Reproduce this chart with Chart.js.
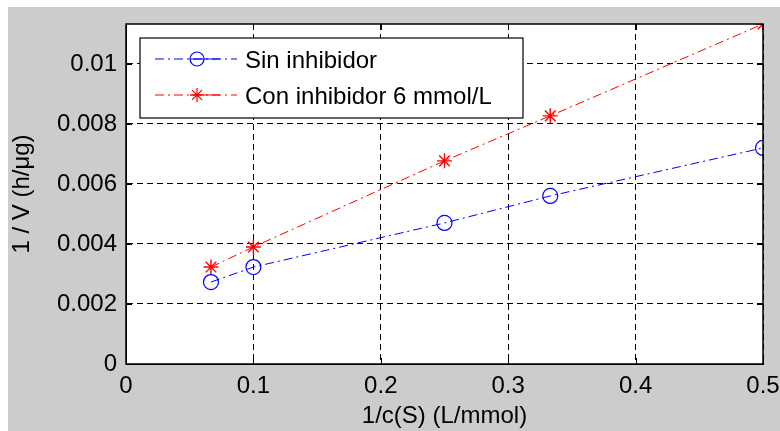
<!DOCTYPE html>
<html>
<head>
<meta charset="utf-8">
<style>
  html, body { margin: 0; padding: 0; background: #fff; }
  #wrap { position: absolute; left: 0; top: 0; width: 780px; height: 431px; }
</style>
<script src="https://cdn.jsdelivr.net/npm/chart.js"></script>
</head>
<body>
<div id="wrap"><canvas id="myChart" width="780" height="431"></canvas></div>
<script>
  // data
  const invS = [0.0667, 0.1, 0.25, 0.333, 0.5];
  const sinInhibidor = [0.00273, 0.00323, 0.0047, 0.0056, 0.0072];
  const conInhibidor = [0.00323, 0.0039, 0.00677, 0.00827, 0.01133];
  const seriesNames = ['Sin inhibidor', 'Con inhibidor 6 mmol/L'];
  const xTicks = [0, 0.1, 0.2, 0.3, 0.4, 0.5];
  const yTicks = [0, 0.002, 0.004, 0.006, 0.008, 0.01];

  const FONT = '"Liberation Sans", Arial, sans-serif';
  const DASHDOT = [9, 4, 2, 4];

  // figure background, white edge strip, frame + inward ticks around plot area
  const frame = {
    id: 'frame',
    beforeDraw(chart) {
      const c = chart.ctx;
      c.save();
      c.fillStyle = '#fff';
      c.fillRect(0, 0, chart.width, chart.height);
      c.fillStyle = '#cccccc';
      c.fillRect(8, 7, chart.width - 8, chart.height - 7);
      const a = chart.chartArea;
      c.fillStyle = '#fff';
      c.fillRect(a.left, a.top, a.right - a.left, a.bottom - a.top);
      c.restore();
    },
    afterDatasetsDraw(chart) {
      const c = chart.ctx, a = chart.chartArea;
      const sx = chart.scales.x, sy = chart.scales.y;
      c.save();
      c.strokeStyle = '#000';
      c.lineWidth = 1;
      c.beginPath();
      xTicks.forEach(v => {
        const px = Math.round(sx.getPixelForValue(v)) + 0.5;
        c.moveTo(px, a.top); c.lineTo(px, a.top + 6);
        c.moveTo(px, a.bottom); c.lineTo(px, a.bottom - 6);
      });
      yTicks.forEach(v => {
        const py = Math.round(sy.getPixelForValue(v)) + 0.5;
        c.moveTo(a.left, py); c.lineTo(a.left + 6, py);
        c.moveTo(a.right, py); c.lineTo(a.right - 6, py);
      });
      c.stroke();
      c.lineWidth = 1.5;
      c.strokeRect(a.left, a.top, a.right - a.left, a.bottom - a.top);
      c.restore();
    }
  };

  function marker(c, style, color, x, y, r) {
    c.save();
    c.strokeStyle = color;
    c.lineWidth = 1.2;
    c.setLineDash([]);
    c.beginPath();
    if (style === 'circle') {
      c.arc(x, y, r, 0, Math.PI * 2);
    } else {
      for (let i = 0; i < 4; i++) {
        const ang = i * Math.PI / 4;
        c.moveTo(x - r * Math.cos(ang), y - r * Math.sin(ang));
        c.lineTo(x + r * Math.cos(ang), y + r * Math.sin(ang));
      }
    }
    c.stroke();
    c.restore();
  }

  // legend box in the upper left of the axes, drawn like the MATLAB one
  const boxLegend = {
    id: 'boxLegend',
    afterDraw(chart) {
      const c = chart.ctx;
      const x0 = 140, y0 = 38, w = 383, h = 80;
      c.save();
      c.fillStyle = '#fff';
      c.fillRect(x0, y0, w, h);
      c.strokeStyle = '#000';
      c.lineWidth = 1.2;
      c.strokeRect(x0, y0, w, h);
      const rows = [59, 95];
      chart.data.datasets.forEach((ds, i) => {
        const y = rows[i];
        c.strokeStyle = ds.borderColor;
        c.lineWidth = 1;
        c.setLineDash(DASHDOT);
        c.beginPath();
        c.moveTo(155, y);
        c.lineTo(237, y);
        c.stroke();
        c.setLineDash([]);
        c.beginPath();
        c.moveTo(190, y);
        c.lineTo(220, y);
        c.stroke();
        marker(c, ds.pointStyle, ds.borderColor, 197, y, 7);
        c.fillStyle = '#000';
        c.font = '24px ' + FONT;
        c.textBaseline = 'middle';
        c.fillText(ds.label, 245, y + 2);
      });
      c.restore();
    }
  };

  const ctx = document.getElementById('myChart');
  new Chart(ctx, {
    type: 'scatter',
    data: {
      datasets: [
        {
          label: seriesNames[0],
          data: invS.map((x, i) => ({ x: x, y: sinInhibidor[i] })),
          showLine: true,
          borderColor: '#0000ff',
          backgroundColor: 'rgba(0,0,0,0)',
          borderWidth: 1,
          borderDash: DASHDOT,
          pointStyle: 'circle',
          pointRadius: 7.5,
          pointBorderWidth: 1.2,
          pointBorderColor: '#0000ff'
        },
        {
          label: seriesNames[1],
          data: invS.map((x, i) => ({ x: x, y: conInhibidor[i] })),
          showLine: true,
          borderColor: '#ff0000',
          backgroundColor: 'rgba(0,0,0,0)',
          borderWidth: 1,
          borderDash: DASHDOT,
          pointStyle: 'star',
          pointRadius: 7.5,
          pointBorderWidth: 1.4,
          pointBorderColor: '#ff0000'
        }
      ]
    },
    options: {
      responsive: false,
      animation: false,
      layout: { padding: { left: 0, right: 17, top: 24, bottom: 0 } },
      plugins: {
        legend: { display: false },
        tooltip: { enabled: false }
      },
      scales: {
        x: {
          type: 'linear',
          min: 0,
          max: 0.5,
          afterFit(scale) {
            scale.height = 67;
            scale.paddingLeft = 0;
            scale.paddingRight = 0;
          },
          afterBuildTicks(scale) { scale.ticks = xTicks.map(v => ({ value: v })); },
          grid: { color: '#000', lineWidth: 1, drawTicks: false },
          border: { color: '#000', width: 1, dash: [6, 4] },
          ticks: {
            color: '#000',
            padding: 8,
            maxRotation: 0,
            font: { family: FONT, size: 24 },
            callback: v => String(v)
          },
          title: {
            display: true,
            text: '1/c(S) (L/mmol)',
            color: '#000',
            padding: { top: 0, bottom: 0 },
            font: { family: FONT, size: 24 }
          }
        },
        y: {
          type: 'linear',
          min: 0,
          max: 0.01133,
          afterFit(scale) { scale.width = 126; },
          afterBuildTicks(scale) { scale.ticks = yTicks.map(v => ({ value: v })); },
          grid: { color: '#000', lineWidth: 1, drawTicks: false },
          border: { color: '#000', width: 1, dash: [6, 4] },
          ticks: {
            color: '#000',
            padding: 9,
            font: { family: FONT, size: 24 },
            callback: v => String(v)
          },
          title: {
            display: true,
            text: '1 / V (h/\u03bcg)',
            color: '#000',
            padding: { top: 8, bottom: 0 },
            font: { family: FONT, size: 24 }
          }
        }
      }
    },
    plugins: [frame, boxLegend]
  });
</script>
</body>
</html>
